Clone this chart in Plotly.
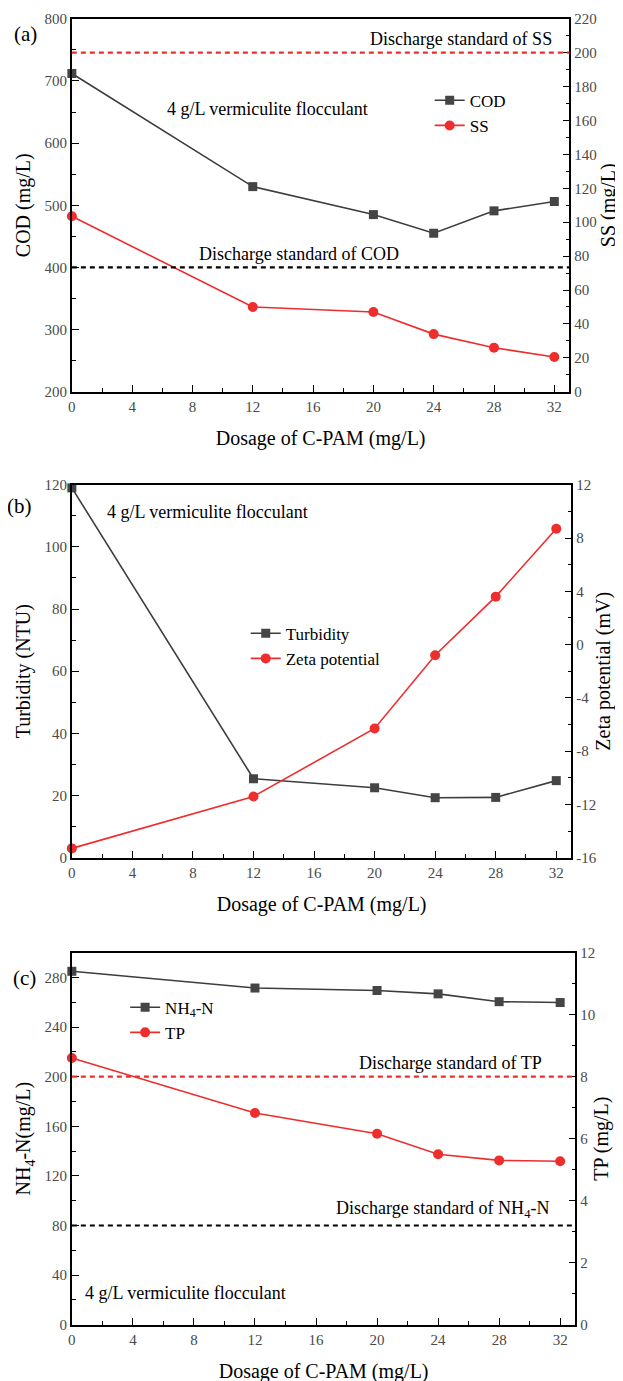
import plotly.graph_objects as go

# ---------------- data ----------------
dosage = [0, 12, 20, 24, 28, 32]

cod = [712, 530, 485, 455, 491, 506]
ss = [103.5, 50, 47, 34, 26, 20.5]
cod_standard = 400
ss_standard = 200

turbidity = [119, 25.4, 22.5, 19.3, 19.4, 24.8]
zeta = [-15.3, -11.4, -6.3, -0.8, 3.6, 8.7]

nh4n = [285, 271.5, 269.5, 266.8, 260.5, 259.8]
tp = [8.6, 6.83, 6.16, 5.5, 5.3, 5.27]
tp_standard = 8
nh4n_standard = 80

x_ticks = [0, 4, 8, 12, 16, 20, 24, 28, 32]
zeta_ticks = [-16, -12, -8, -4, 0, 4, 8, 12]
zeta_ticklabels = ["-16", "-12", "-8", "-4", "0", "4", "8", "12"]

# ---------------- style ----------------
W, H = 623, 1381
FONT = "Liberation Serif, Times New Roman, serif"
GRAY = "#3d3d3d"
RED = "#ee2d2d"
TICKCOL = "#4a4a4a"

# empirical page-to-figure correction
SCALE = 0.9885
X_SHIFT = 12.6
Y_SHIFT = 15.4


def px(x):
    return (x / SCALE - X_SHIFT) / W


def py(y):
    return 1 - (y / SCALE - Y_SHIFT) / H


fig = go.Figure()

panels = [
    dict(left=cod, right=ss, lname="COD", rname="SS", top=18, bottom=391, xl=72, xr=567),
    dict(left=turbidity, right=zeta, lname="Turbidity", rname="Zeta potential", top=484, bottom=857, xl=72, xr=569),
    dict(left=nh4n, right=tp, lname="NH<sub>4</sub>-N", rname="TP", top=952, bottom=1324, xl=72, xr=573),
]

for i, p in enumerate(panels):
    k = i + 1
    xa = "x" if k == 1 else f"x{k}"
    yl = "y" if k == 1 else f"y{2 * k - 1}"
    yr = f"y{2 * k}"
    lg = "legend" if k == 1 else f"legend{k}"
    fig.add_trace(go.Scatter(
        x=dosage, y=p["left"], name=p["lname"], xaxis=xa, yaxis=yl, legend=lg,
        mode="lines+markers", line=dict(color=GRAY, width=1.6),
        marker=dict(symbol="square", size=9, color="#454545"), cliponaxis=False))
    fig.add_trace(go.Scatter(
        x=dosage, y=p["right"], name=p["rname"], xaxis=xa, yaxis=yr, legend=lg,
        mode="lines+markers", line=dict(color=RED, width=1.6),
        marker=dict(symbol="circle", size=10, color=RED), cliponaxis=False))

axis_common = dict(
    showline=True, linecolor="black", linewidth=1.7, ticks="inside", ticklen=7,
    tickwidth=1.4, tickcolor="black", showgrid=False, zeroline=False,
    tickfont=dict(family=FONT, size=15, color=TICKCOL),
)
title_font = dict(family=FONT, size=20, color="black")

left_cfg = [
    dict(range=[200, 800], dtick=100, minor=50, title="COD (mg/L)"),
    dict(range=[0, 120], dtick=20, minor=10, title="Turbidity (NTU)"),
    dict(range=[0, 300], dtick=40, minor=20, title="NH<sub>4</sub>-N(mg/L)"),
]
right_cfg = [
    dict(range=[0, 220], dtick=20, minor=10, title="SS (mg/L)"),
    dict(range=[-16, 12], dtick=4, minor=2, title="Zeta potential (mV)",
         tickvals=zeta_ticks, ticktext=zeta_ticklabels),
    dict(range=[0, 12], dtick=2, minor=1, title="TP (mg/L)"),
]

layout = dict(
    width=W, height=H, margin=dict(l=0, r=0, t=0, b=0),
    paper_bgcolor="white", plot_bgcolor="white",
    font=dict(family=FONT, color="black"),
)

for i, p in enumerate(panels):
    k = i + 1
    xname = "xaxis" if k == 1 else f"xaxis{k}"
    ylname = "yaxis" if k == 1 else f"yaxis{2 * k - 1}"
    yrname = f"yaxis{2 * k}"
    yl_id = "y" if k == 1 else f"y{2 * k - 1}"
    x_id = "x" if k == 1 else f"x{k}"
    ydom = [py(p["bottom"]), py(p["top"])]
    layout[xname] = dict(
        axis_common, domain=[px(p["xl"]), px(p["xr"])], range=[0, 33], anchor=yl_id,
        tickvals=x_ticks, mirror=True,
        minor=dict(ticks="inside", ticklen=4, dtick=2, tick0=0, tickcolor="black"),
        title=dict(text="Dosage of C-PAM (mg/L)", font=title_font, standoff=17),
    )
    lc = left_cfg[i]
    layout[ylname] = dict(
        axis_common, domain=ydom, range=lc["range"], dtick=lc["dtick"], anchor=x_id,
        minor=dict(ticks="inside", ticklen=4, dtick=lc["minor"], tickcolor="black"),
        title=dict(text=lc["title"], font=title_font, standoff=8),
    )
    rc = right_cfg[i]
    ra = dict(
        axis_common, domain=ydom, range=rc["range"], dtick=rc["dtick"], anchor=x_id,
        overlaying=yl_id, side="right",
        minor=dict(ticks="inside", ticklen=4, dtick=rc["minor"], tickcolor="black"),
        title=dict(text=rc["title"], font=title_font, standoff=0),
    )
    if "tickvals" in rc:
        ra["tickvals"] = rc["tickvals"]
        ra["ticktext"] = rc["ticktext"]
        ra["tickmode"] = "array"
    layout[yrname] = ra

legend_pos = [(428, 82), (245, 615), (125, 989)]
for i, (lx, ly) in enumerate(legend_pos):
    name = "legend" if i == 0 else f"legend{i + 1}"
    layout[name] = dict(
        x=px(lx), y=py(ly), xanchor="left", yanchor="top",
        bgcolor="rgba(0,0,0,0)", font=dict(family=FONT, size=17, color="black"),
        tracegroupgap=0, itemwidth=30,
    )

fig.update_layout(**layout)

std_lines = [
    ("y2", ss_standard, RED, "x"),
    ("y", cod_standard, "black", "x"),
    ("y6", tp_standard, RED, "x3"),
    ("y5", nh4n_standard, "black", "x3"),
]
for yref, val, col, xr in std_lines:
    fig.add_shape(type="line", xref=f"{xr} domain", yref=yref, x0=0, x1=1, y0=val, y1=val,
                  line=dict(color=col, width=2.2, dash="5px,4px"))

ann_font = dict(family=FONT, size=18, color="black")
annots = [
    ("Discharge standard of SS", 552, 38, "right"),
    ("4 g/L vermiculite flocculant", 165, 108, "left"),
    ("Discharge standard of COD", 197, 253, "left"),
    ("4 g/L vermiculite flocculant", 105, 511, "left"),
    ("Discharge standard of TP", 542, 1062, "right"),
    ("Discharge standard of NH<sub>4</sub>-N", 549, 1209, "right"),
    ("4 g/L vermiculite flocculant", 83, 1292, "left"),
]
for text, x, y, anchor in annots:
    fig.add_annotation(text=text, xref="paper", yref="paper", x=px(x), y=py(y),
                       xanchor=anchor, yanchor="middle", showarrow=False, font=ann_font)

labels = [("(a)", 26, 33), ("(b)", 20, 505), ("(c)", 25, 977)]
for text, x, y in labels:
    fig.add_annotation(text=text, xref="paper", yref="paper", x=px(x), y=py(y),
                       xanchor="center", yanchor="middle", showarrow=False,
                       font=dict(family=FONT, size=21, color="black"))

fig.write_html("out.html")
